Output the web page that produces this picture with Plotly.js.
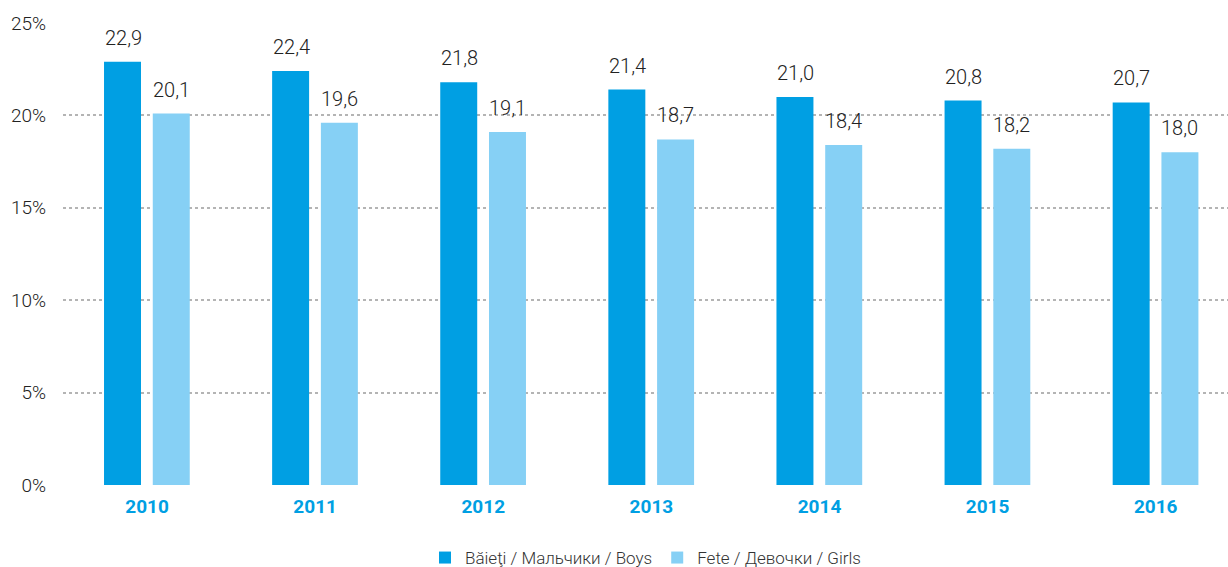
<!DOCTYPE html>
<html>
<head>
<meta charset="utf-8">
<script src="https://cdn.plot.ly/plotly-3.0.1.min.js"></script>
<style>html,body{margin:0;padding:0;background:#fff;}#chart{width:1228px;height:567px;}</style>
</head>
<body>
<div id="chart"></div>
<script>
const years = ['2010','2011','2012','2013','2014','2015','2016'];
const boys = [22.9, 22.4, 21.8, 21.4, 21.0, 20.8, 20.7];
const girls = [20.1, 19.6, 19.1, 18.7, 18.4, 18.2, 18.0];
const boysName = 'Băieţi / Мальчики / Boys';
const girlsName = 'Fete / Девочки / Girls';
const tickVals = [0, 5, 10, 15, 20, 25];

const fmt = v => v.toFixed(1).replace('.', ',');
const labelFont = {family: 'Roboto, sans-serif', size: 20, color: '#222222', weight: 300};

const traces = [
  {type: 'bar', name: boysName, x: years, y: boys,
   marker: {color: '#009FE3'}, width: 0.22, offset: -0.256, hoverinfo: 'none'},
  {type: 'bar', name: girlsName, x: years, y: girls,
   marker: {color: '#86D0F5'}, width: 0.22, offset: 0.034, hoverinfo: 'none'}
];

// category axis: annotation x given as category index (0..6) of `years`
const annotations = [];
years.forEach((yr, i) => {
  annotations.push({x: i, y: boys[i], xref: 'x', yref: 'y', text: fmt(boys[i]),
    showarrow: false, xshift: -24, yanchor: 'bottom', yshift: 10, font: labelFont});
  annotations.push({x: i, y: girls[i], xref: 'x', yref: 'y', text: fmt(girls[i]),
    showarrow: false, xshift: 24, yanchor: 'bottom', yshift: 10, font: labelFont});
});

const layout = {
  width: 1228, height: 567,
  margin: {l: 63, r: 0, t: 23, b: 82, autoexpand: false},
  paper_bgcolor: '#ffffff', plot_bgcolor: '#ffffff',
  font: {family: 'Roboto, sans-serif', color: '#222222'},
  showlegend: true,
  legend: {orientation: 'h', x: 0.5, xanchor: 'center', y: -0.158, yanchor: 'middle',
           font: {family: 'Roboto, sans-serif', size: 17, color: '#333333', weight: 300},
           traceorder: 'normal'},
  annotations: annotations,
  xaxis: {type: 'category', range: [-0.5, 6.43], showgrid: false, zeroline: false,
          showline: false, ticks: '', ticklen: 0, ticklabelstandoff: 8,
          tickfont: {family: 'Roboto, sans-serif', size: 19, color: '#009FE3', weight: 'bold'}},
  yaxis: {range: [0, 25], tickvals: tickVals, ticktext: tickVals.map(v => v + '%'),
          showgrid: true, gridcolor: '#b4b4b4', gridwidth: 2, griddash: 'dot',
          zeroline: false, showline: false, ticks: '', ticklabelstandoff: 16,
          tickfont: {family: 'Roboto, sans-serif', size: 19, color: '#222222', weight: 300}}
};

Plotly.newPlot('chart', traces, layout, {displayModeBar: false, staticPlot: true});
</script>
</body>
</html>
